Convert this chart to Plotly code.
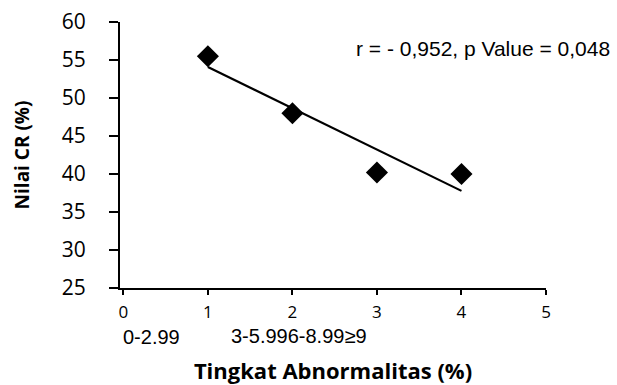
import numpy as np
import plotly.graph_objects as go

# Data
x_vals = [1, 2, 3, 4]
cr_vals = [55.5, 48.0, 40.2, 40.0]
x_ticks = [0, 1, 2, 3, 4, 5]
y_ticks = [25, 30, 35, 40, 45, 50, 55, 60]
category_labels = ["0-2.99", "3-5.996-8.99≥9"]
stat_text = "r = - 0,952, p Value = 0,048"

# Linear trendline from the data
slope, intercept = np.polyfit(x_vals, cr_vals, 1)
trend_x = [x_vals[0], x_vals[-1]]
trend_y = [slope * v + intercept for v in trend_x]

L, R, T, B = 120, 71, 22, 97
W, H = 617, 385

fig = go.Figure()
fig.add_trace(go.Scatter(x=trend_x, y=trend_y, mode="lines",
                         line=dict(color="black", width=2.2), showlegend=False))
fig.add_trace(go.Scatter(x=x_vals, y=cr_vals, mode="markers",
                         marker=dict(symbol="diamond", size=17, color="black"),
                         showlegend=False))

fig.update_layout(
    width=W, height=H,
    margin=dict(l=L, r=R, t=T, b=B, autoexpand=False),
    paper_bgcolor="white", plot_bgcolor="white",
    font=dict(family="Liberation Sans, Arial", color="black"),
)
fig.update_xaxes(
    automargin=False,
    range=[-0.04, 5], tickvals=x_ticks, ticktext=[str(t) for t in x_ticks],
    showgrid=False, zeroline=False, showline=True, linecolor="black", linewidth=2,
    ticks="outside", ticklen=5, tickwidth=2, tickcolor="black",
    tickfont=dict(family="Open Sans", size=17), ticklabelstandoff=3,
    title=dict(text="<b>Tingkat Abnormalitas (%)</b>",
               font=dict(family="Open Sans", size=22), standoff=50),
)
fig.update_yaxes(
    automargin=False,
    range=[25, 60], tickvals=y_ticks,
    showgrid=False, zeroline=False, showline=True, linecolor="black", linewidth=2,
    ticks="outside", ticklen=9, tickwidth=2, tickcolor="black",
    tickfont=dict(family="Open Sans", size=21), ticklabelstandoff=19,
    title=dict(text="<b>Nilai CR (%)</b>",
               font=dict(family="Open Sans", size=19), standoff=27),
)

pw, ph = W - L - R, H - T - B
def px(x):
    return (x - L) / pw
def py(y):
    return 1 - (y - T) / ph

fig.add_annotation(x=px(121), y=py(337), xref="paper", yref="paper", text=category_labels[0],
                   showarrow=False, font=dict(size=20), xanchor="left", yanchor="middle")
fig.add_annotation(x=px(229), y=py(336), xref="paper", yref="paper", text=category_labels[1],
                   showarrow=False, font=dict(size=20), xanchor="left", yanchor="middle")
fig.add_annotation(x=px(612), y=py(48), xref="paper", yref="paper", text=stat_text,
                   showarrow=False, font=dict(size=21), xanchor="right", yanchor="middle")

fig.write_html("out.html", config={"displayModeBar": False},
               post_script="document.body.style.margin='0';document.body.style.overflow='hidden';")
